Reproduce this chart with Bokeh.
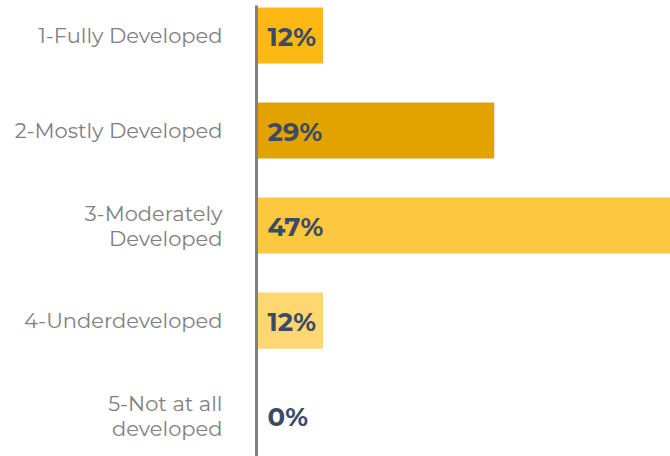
from bokeh.plotting import figure
from bokeh.models import ColumnDataSource, Range1d, FixedTicker
from bokeh.core.properties import value
from bokeh.embed import file_html
from bokeh.resources import INLINE

categories = ["1-Fully Developed", "2-Mostly Developed", "3-Moderately\nDeveloped",
              "4-Underdeveloped", "5-Not at all\ndeveloped"]
values = [12, 29, 47, 12, 0]
value_labels = ["12%", "29%", "47%", "12%", "0%"]
colors = ["#FDB813", "#E2A300", "#FDC740", "#FED672", "#FED672"]

positions = list(range(len(categories)))

src = ColumnDataSource(dict(
    y=positions,
    v=values,
    lab=value_labels,
    c=colors,
    x0=[0] * len(values),
))

p = figure(width=670, height=456, output_backend="svg", toolbar_location=None,
           x_range=Range1d(5.4, 46.5), y_range=Range1d(4.43, -0.316),
           x_axis_location=None, min_border_left=256, min_border_right=0,
           min_border_top=5, min_border_bottom=0)

p.hbar(y="y", right="v", left="x0", height=0.59, color="c", line_color=None, source=src)

p.text(x=5.4, y="y", text="lab", source=src, x_offset=11, y_offset=1,
       text_font=value("Montserrat, Open Sans"), text_font_style="bold",
       text_font_size="26px", text_color="#3C4B64",
       text_align="left", text_baseline="middle")

p.xgrid.visible = False
p.ygrid.visible = False
p.outline_line_color = None

ax = p.yaxis[0]
ax.ticker = FixedTicker(ticks=positions)
ax.major_label_overrides = {i: c for i, c in enumerate(categories)}
ax.major_tick_line_color = None
ax.minor_tick_line_color = None
ax.axis_line_color = "#808080"
ax.axis_line_width = 3
ax.major_label_standoff = 28
ax.major_label_text_font = "Montserrat, Open Sans"
ax.major_label_text_font_size = "21px"
ax.major_label_text_line_height = 1.0
ax.major_label_text_color = "#808080"

open("out.html", "w").write(file_html(p, INLINE))
